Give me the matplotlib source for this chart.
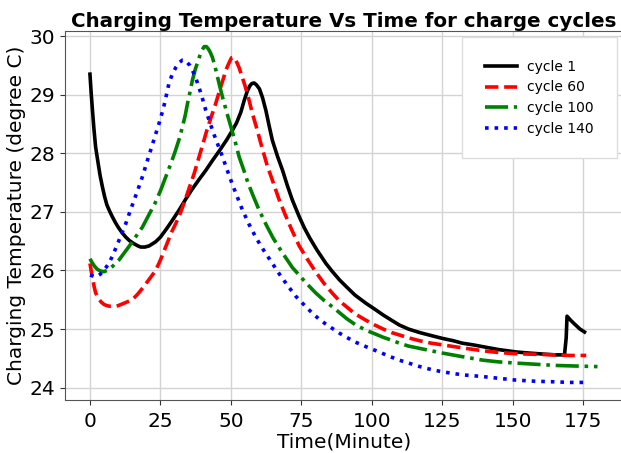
import matplotlib.pyplot as plt

# Readings taken from the charging log (minutes, degree C)
t_c1 = [0, 0.4, 0.8, 1.4, 2, 2.8, 3.6, 4.4, 5.2, 6, 7, 7.9, 9, 10, 11.3, 12.7, 14, 15.5, 17, 18, 19.5, 21, 23.3,
        25, 27, 29, 31.6, 34, 36, 38.5, 41.1, 43.5, 46, 48.5, 50.5, 52, 53.5, 54.7, 55.8, 56.7, 57.4, 58.2,
        59, 60.1, 61.2, 62.4, 63.5, 64.7, 66.5, 68.3, 70, 71.8, 74.2, 76, 78, 80.5, 83.7, 86, 88.5, 91, 94,
        97.9, 101, 104, 107, 109.7, 113, 117, 121, 125.1, 129, 132, 136, 139.3, 145, 151.1, 156, 161.8, 165,
        168.3, 168.9, 169.2, 170.5, 172, 173.8, 175.4]
temp_c1 = [29.35, 29.05, 28.79, 28.42, 28.11, 27.86, 27.62, 27.43, 27.26, 27.12, 27.01, 26.92, 26.82, 26.74,
           26.65, 26.57, 26.51, 26.46, 26.42, 26.40, 26.40, 26.42, 26.49, 26.57, 26.7, 26.84, 27.03, 27.22,
           27.37, 27.54, 27.71, 27.88, 28.05, 28.23, 28.39, 28.52, 28.7, 28.9, 29.06, 29.15, 29.19, 29.2,
           29.17, 29.1, 28.95, 28.73, 28.48, 28.22, 27.95, 27.71, 27.45, 27.2, 26.92, 26.73, 26.55, 26.35,
           26.12, 25.98, 25.84, 25.72, 25.58, 25.44, 25.34, 25.24, 25.15, 25.07, 25.0, 24.94, 24.89, 24.84,
           24.8, 24.76, 24.73, 24.70, 24.65, 24.61, 24.59, 24.57, 24.56, 24.56, 24.85, 25.22, 25.15, 25.08,
           25.0, 24.95]

t_c60 = [0, 0.5, 1, 1.5, 2, 3, 4, 5, 6, 7, 7.9, 9, 10, 11, 12, 13.5, 15, 17, 19, 21, 23.3, 25, 27, 29, 31.6,
         33.3, 35, 37, 38.7, 40, 41.5, 43, 44.6, 45.6, 46.5, 47.4, 48.2, 49.2, 50.2, 50.9, 51.5, 52.2, 52.9,
         54, 55, 56.3, 57.6, 59.3, 61, 62.8, 64.7, 67, 69, 71.5, 74.2, 77, 80, 83, 86, 88.5, 91, 94, 97.9,
         101, 104, 107, 109.7, 113, 117, 121, 125.1, 132, 139.3, 145, 151, 158, 165, 170, 176]
temp_c60 = [26.12, 25.98, 25.85, 25.72, 25.62, 25.52, 25.46, 25.42, 25.40, 25.39, 25.39, 25.39, 25.40, 25.42,
            25.44, 25.47, 25.5, 25.6, 25.72, 25.85, 26.0, 26.18, 26.42, 26.66, 26.92, 27.14, 27.38, 27.66,
            27.94, 28.15, 28.4, 28.62, 28.85, 29.01, 29.15, 29.29, 29.42, 29.53, 29.63, 29.64, 29.6, 29.54,
            29.46, 29.3, 29.15, 28.93, 28.68, 28.4, 28.1, 27.8, 27.54, 27.22, 26.98, 26.7, 26.42, 26.2, 25.98,
            25.78, 25.61, 25.48, 25.38, 25.26, 25.15, 25.07, 25.0, 24.94, 24.9, 24.85, 24.8, 24.76, 24.73,
            24.68, 24.63, 24.6, 24.58, 24.57, 24.56, 24.55, 24.55]

t_c100 = [0, 0.7, 1.5, 2.6, 3.8, 5, 6, 7, 8, 9, 10.3, 12, 14, 16, 18.6, 21, 23, 25, 26.9, 28.5, 30, 31.5, 32.8,
          33.8, 34.6, 35.5, 36.3, 37.4, 38.5, 39.5, 40.5, 41.3, 42, 42.7, 43.4, 44.2, 45, 46, 47, 48.5, 50,
          51.5, 52.9, 54.5, 56, 58, 60, 62.5, 65, 68, 71.8, 74.2, 77, 80, 83, 86, 88.5, 91, 94, 97.9, 101, 104,
          107, 109.7, 113, 117, 121, 125.1, 132, 139.3, 145, 151, 158, 165, 172, 180]
temp_c100 = [26.2, 26.14, 26.08, 26.02, 25.99, 25.98, 26.0, 26.03, 26.07, 26.12, 26.18, 26.29, 26.42, 26.56,
             26.74, 26.96, 27.14, 27.36, 27.6, 27.8, 28.0, 28.22, 28.45, 28.65, 28.85, 29.05, 29.24, 29.44,
             29.6, 29.74, 29.82, 29.82, 29.78, 29.72, 29.64, 29.51, 29.35, 29.15, 28.96, 28.7, 28.45, 28.2,
             27.94, 27.72, 27.5, 27.26, 27.03, 26.78, 26.55, 26.32, 26.05, 25.92, 25.77, 25.62, 25.49, 25.38,
             25.28, 25.18, 25.08, 24.98, 24.92, 24.86, 24.81, 24.76, 24.71, 24.67, 24.63, 24.59, 24.53, 24.47,
             24.44, 24.42, 24.4, 24.38, 24.37, 24.36]

t_c140 = [0, 0.8, 1.5, 2.6, 3.5, 4.5, 5.5, 6.7, 8, 9.5, 11, 12.7, 14, 15.5, 17, 18.6, 20, 21.5, 23, 24.5, 26,
          27, 28, 29.2, 30.5, 31.7, 32.8, 33.7, 34.5, 35.4, 36.3, 37.4, 38.5, 39.8, 41.1, 42.5, 44, 45.5, 47,
          48.7, 50.5, 52.3, 54.1, 56.5, 59, 61.8, 64.7, 67.3, 70, 73, 76.6, 78.5, 81, 83.5, 86, 88.5, 91, 94,
          97.9, 101, 104, 107, 109.7, 113, 117, 121, 125.1, 132, 139.3, 145, 151, 158, 165, 170, 175.7]
temp_c140 = [25.92, 25.91, 25.9, 25.9, 25.93, 25.98, 26.04, 26.12, 26.25, 26.42, 26.6, 26.8, 26.98, 27.18,
             27.38, 27.6, 27.82, 28.05, 28.28, 28.51, 28.76, 28.97, 29.19, 29.35, 29.47, 29.55, 29.59, 29.59,
             29.55, 29.5, 29.42, 29.3, 29.15, 28.95, 28.73, 28.53, 28.32, 28.13, 27.94, 27.71, 27.47, 27.25,
             27.03, 26.78, 26.55, 26.33, 26.12, 25.93, 25.75, 25.56, 25.38, 25.29, 25.18, 25.09, 25.01, 24.93,
             24.86, 24.78, 24.70, 24.64, 24.58, 24.52, 24.47, 24.42, 24.36, 24.31, 24.27, 24.22, 24.19, 24.16,
             24.13, 24.11, 24.10, 24.09, 24.09]

fig = plt.figure(figsize=(6.21, 4.53), dpi=100)
ax = fig.add_axes([0.104, 0.117, 0.899, 0.815])

ax.plot(t_c1, temp_c1, color='black', linestyle='-', linewidth=2.6, label='cycle 1')
ax.plot(t_c60, temp_c60, color='red', linestyle='--', linewidth=2.6, label='cycle 60')
ax.plot(t_c100, temp_c100, color='green', linestyle='-.', linewidth=2.6, label='cycle 100')
ax.plot(t_c140, temp_c140, color='blue', linestyle=':', linewidth=2.6, label='cycle 140')

ax.set_xlim(-9, 189)
ax.set_ylim(23.79, 30.09)
ax.set_xticks([0, 25, 50, 75, 100, 125, 150, 175])
ax.set_yticks([24, 25, 26, 27, 28, 29, 30])
ax.tick_params(labelsize=14.5, colors='#333333', labelcolor='black')
ax.tick_params(axis='x', pad=5)
ax.grid(True, color='#d3d3d3', linewidth=1)
for s in ax.spines.values():
    s.set_color('#555555')

ax.set_title('Charging Temperature Vs Time for charge cycles', fontsize=14.3, fontweight='bold', pad=3)
ax.set_xlabel('Time(Minute)', fontsize=14.5, labelpad=1)
ax.set_ylabel('Charging Temperature (degree C)', fontsize=14.5, labelpad=2)

ax.legend(loc='upper right', fontsize=10, borderpad=1.65, handlelength=2.3, handletextpad=0.7,
          borderaxespad=0.45, labelspacing=0.47, fancybox=False, framealpha=1, edgecolor='#dddddd')

plt.savefig('out.png', dpi=100)
